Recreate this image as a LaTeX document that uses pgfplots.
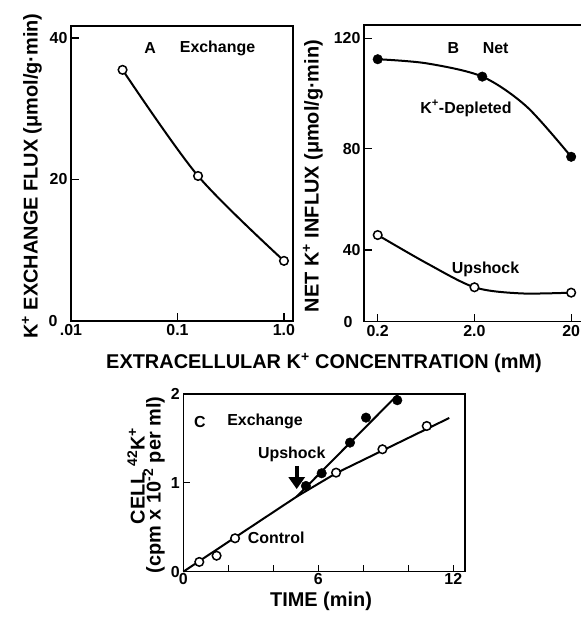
\documentclass[border=0pt]{standalone}
\usepackage{fontspec}
\setmainfont{Liberation Sans}
\usepackage{pgfplots}
\pgfplotsset{compat=1.18}
\usetikzlibrary{arrows.meta}

\pgfplotsset{
  panel/.style={
    scale only axis, anchor=south west, clip=false,
    axis line style={line width=1.5bp},
    every tick/.style={black, line width=1.3bp},
    tick align=inside, major tick length=8bp,
    xtick pos=bottom, ytick pos=left,
    xminorticks=false, yminorticks=false,
    tick label style={font=\fontsize{16}{16}\selectfont\bfseries},
    /pgf/number format/assume math mode=true,
  },
  openmk/.style={only marks, mark=*, mark size=4.3bp,
    mark options={fill=white, draw=black, line width=1.5bp}},
  fullmk/.style={only marks, mark=*, mark size=4.8bp,
    mark options={fill=black, draw=black}},
  curve/.style={smooth, no marks, black, line width=2bp},
  fitline/.style={sharp plot, no marks, black, line width=2bp},
}
\newcommand{\lab}{\fontsize{20}{20}\selectfont\bfseries}
\newcommand{\txt}{\fontsize{16}{16}\selectfont\bfseries}

\begin{document}
\begin{tikzpicture}
\useasboundingbox (0,0) rectangle (581bp,618bp);

% A: exchange flux
\begin{axis}[panel, at={(71bp,297bp)}, width=222bp, height=295bp,
  xmode=log, xmin=0.01, xmax=1.216, ymin=0, ymax=41.7,
  xtick={0.01,0.1,1}, xticklabels={.01,0.1,1.0},
  ytick={0,20,40}, yticklabels={{0\rule{10bp}{0pt}},20,40}]
  \addplot[curve] coordinates {(0.0305,35.5) (0.156,20.5) (1.0,8.5)};
  \addplot[openmk] coordinates {(0.0305,35.5) (0.156,20.5) (1.0,8.5)};
  \node[font=\txt] at (rel axis cs:0.356,0.924) {A};
  \node[font=\txt] at (rel axis cs:0.660,0.924) {Exchange};
\end{axis}

% B: net influx (uneven y scale as in the original)
\begin{axis}[panel, at={(364bp,296.3bp)}, width=221bp, height=296.7bp,
  xmode=log, xmin=0.1443, xmax=27.8, ymin=0, ymax=124.8,
  y coord trafo/.code={\pgfmathparse{(#1<=40)?(#1*1.7925):((#1<=80)?(71.7+(#1-40)*2.5325):(173+(#1-80)*2.76))}},
  xtick={0.2,2,20}, xticklabels={0.2,2.0,20},
  ytick={0,40,80,120}, yticklabels={{0\rule{8bp}{0pt}},40,80,120}]
  \addplot[curve] coordinates {(0.2,112.4) (0.643,110.9) (2.41,106.1) (6.95,95.2) (20,76.8)};
  \addplot[fullmk] coordinates {(0.2,112.4) (2.41,106.1) (20,76.8)};
  \addplot[curve] coordinates {(0.2,45.9) (0.643,32.6) (2.0,19.2) (5.93,15.8) (20,16.2)};
  \addplot[openmk] coordinates {(0.2,45.9) (2.0,19.2) (20,16.2)};
  \node[font=\txt] at (rel axis cs:0.404,0.921) {B};
  \node[font=\txt] at (rel axis cs:0.596,0.921) {Net};
  \node[font=\txt] at (rel axis cs:0.4615,0.719) {K\textsuperscript{+}-Depleted};
  \node[font=\txt] at (rel axis cs:0.55,0.177) {Upshock};
\end{axis}

% C: 42K uptake vs time
\begin{axis}[panel, at={(183.3bp,46.3bp)}, width=281.7bp, height=177.7bp,
  xmin=0, xmax=12.52, ymin=0, ymax=2, major tick length=7bp,
  xtick={0,2,...,12}, xticklabels={0,,,6,,,12},
  xticklabel style={yshift=2bp},
  ytick={0,1,2}]
  \addplot[fitline] coordinates {(0,0) (5.04,0.845) (6.8,1.11) (11.82,1.73)};
  \addplot[fitline] coordinates {(5.04,0.845) (9.56,2.0)};
  \addplot[openmk] coordinates {(0.71,0.11) (1.48,0.18) (2.30,0.376) (6.79,1.115) (8.85,1.378) (10.82,1.64)};
  \addplot[fullmk] coordinates {(5.45,0.965) (6.15,1.108) (7.41,1.453) (8.12,1.734) (9.51,1.93)};
  \draw[line width=4bp, -{Triangle[width=16bp,length=12bp]}] (axis cs:5.04,1.19) -- (axis cs:5.04,0.93);
  \node[font=\txt] at (rel axis cs:0.059,0.844) {C};
  \node[font=\txt] at (rel axis cs:0.29,0.844) {Exchange};
  \node[font=\txt] at (rel axis cs:0.385,0.662) {Upshock};
  \node[font=\txt, anchor=west, inner sep=1bp] at (rel axis cs:0.225,0.188) {Control};
\end{axis}

% axis titles
\node[font=\lab] at (324bp,255bp) {EXTRACELLULAR K\textsuperscript{+} CONCENTRATION (mM)};
\node[font=\lab, rotate=90] at (32bp,442bp) {K\textsuperscript{+} EXCHANGE FLUX (μmol/g·min)};
\node[font=\lab, rotate=90] at (313bp,442bp) {NET K\textsuperscript{+} INFLUX (μmol/g·min)};
\node[font=\lab, rotate=90] at (136bp,142bp) {CELL \textsuperscript{42}K\textsuperscript{+}};
\node[font=\lab, rotate=90] at (154bp,133bp) {(cpm x 10\textsuperscript{-2} per ml)};
\node[font=\lab] at (321bp,17bp) {TIME (min)};
\end{tikzpicture}
\end{document}
